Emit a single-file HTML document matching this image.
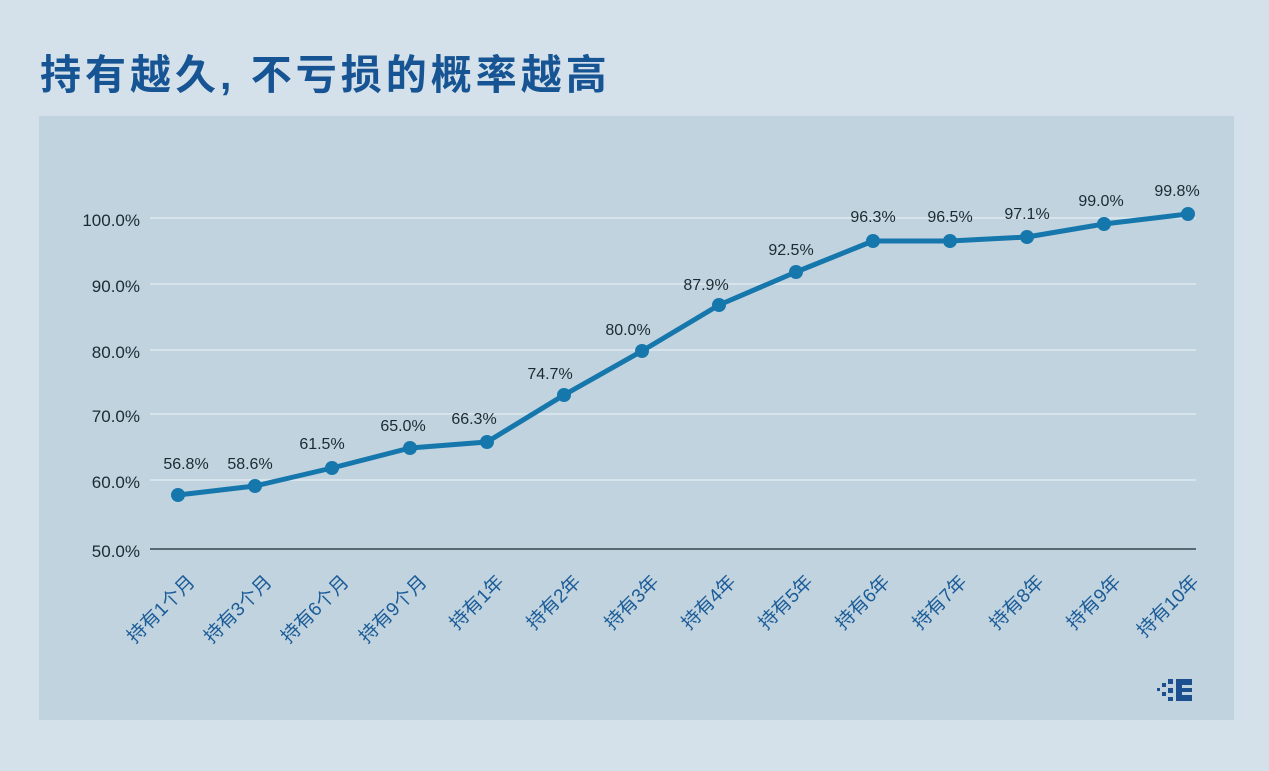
<!DOCTYPE html>
<html><head><meta charset="utf-8"><style>
body{margin:0;width:1269px;height:771px;background:#d4e1ea;overflow:hidden}
</style></head><body>
<svg width="1269" height="771" xmlns="http://www.w3.org/2000/svg" style="position:absolute;left:0;top:0">
<text x="40" y="89" font-family="'Liberation Sans','Noto Sans CJK SC',sans-serif" font-weight="bold" font-size="41" letter-spacing="4" fill="#175493">持有越久, 不亏损的概率越高</text>
<rect x="39" y="116" width="1195" height="604" fill="#c1d3de"/>
<g stroke="#e6eef3" stroke-width="1.2">
<line x1="150" x2="1196" y1="218" y2="218"/><line x1="150" x2="1196" y1="284" y2="284"/>
<line x1="150" x2="1196" y1="350" y2="350"/><line x1="150" x2="1196" y1="414" y2="414"/>
<line x1="150" x2="1196" y1="480" y2="480"/>
</g>
<line x1="150" x2="1196" y1="549" y2="549" stroke="#1a2a33" stroke-width="1.3"/>
<g font-family="'Liberation Sans',sans-serif" font-size="17" fill="#1c2a33" text-anchor="end">
<text x="140" y="226">100.0%</text><text x="140" y="292">90.0%</text><text x="140" y="358">80.0%</text>
<text x="140" y="422">70.0%</text><text x="140" y="488">60.0%</text><text x="140" y="557">50.0%</text>
</g>
<polyline fill="none" stroke="#1677ad" stroke-width="5" stroke-linejoin="round" points="178,495 255,486 332,468 410,448 487,442 564,395 642,351 719,305 796,272 873,241 950,241 1027,237 1104,224 1188,214"/>
<g fill="#1677ad">
<circle cx="178" cy="495" r="7"/><circle cx="255" cy="486" r="7"/><circle cx="332" cy="468" r="7"/><circle cx="410" cy="448" r="7"/><circle cx="487" cy="442" r="7"/><circle cx="564" cy="395" r="7"/><circle cx="642" cy="351" r="7"/><circle cx="719" cy="305" r="7"/><circle cx="796" cy="272" r="7"/><circle cx="873" cy="241" r="7"/><circle cx="950" cy="241" r="7"/><circle cx="1027" cy="237" r="7"/><circle cx="1104" cy="224" r="7"/><circle cx="1188" cy="214" r="7"/>
</g>
<g font-family="'Liberation Sans',sans-serif" font-size="16" fill="#1c2a33" text-anchor="middle">
<text x="186" y="469">56.8%</text><text x="250" y="469">58.6%</text><text x="322" y="449">61.5%</text><text x="403" y="431">65.0%</text><text x="474" y="424">66.3%</text><text x="550" y="379">74.7%</text><text x="628" y="335">80.0%</text><text x="706" y="290">87.9%</text><text x="791" y="255">92.5%</text><text x="873" y="222">96.3%</text><text x="950" y="222">96.5%</text><text x="1027" y="219">97.1%</text><text x="1101" y="206">99.0%</text><text x="1177" y="196">99.8%</text>
</g>
<g font-family="'Liberation Sans','Noto Sans CJK SC',sans-serif" font-size="19" fill="#1b5c98" text-anchor="end">
<text transform="translate(196,583) rotate(-45)">持有1个月</text>
<text transform="translate(273,583) rotate(-45)">持有3个月</text>
<text transform="translate(350,583) rotate(-45)">持有6个月</text>
<text transform="translate(428,583) rotate(-45)">持有9个月</text>
<text transform="translate(505,583) rotate(-45)">持有1年</text>
<text transform="translate(582,583) rotate(-45)">持有2年</text>
<text transform="translate(660,583) rotate(-45)">持有3年</text>
<text transform="translate(737,583) rotate(-45)">持有4年</text>
<text transform="translate(814,583) rotate(-45)">持有5年</text>
<text transform="translate(891,583) rotate(-45)">持有6年</text>
<text transform="translate(968,583) rotate(-45)">持有7年</text>
<text transform="translate(1045,583) rotate(-45)">持有8年</text>
<text transform="translate(1122,583) rotate(-45)">持有9年</text>
<text transform="translate(1200,583) rotate(-45)">持有10年</text>
</g>
<g fill="#1b4f8f">
<rect x="1176" y="679" width="16" height="22"/>
<rect x="1168" y="679" width="5" height="5"/><rect x="1168" y="688" width="5" height="5"/><rect x="1168" y="697" width="5" height="4"/>
<rect x="1162" y="683" width="4" height="4"/><rect x="1162" y="692" width="4" height="4"/>
<rect x="1157" y="688" width="3" height="3"/>
</g>
<g fill="#c1d3de"><rect x="1182" y="685" width="10" height="3"/><rect x="1182" y="692" width="10" height="3"/></g>
</svg>
</body></html>
